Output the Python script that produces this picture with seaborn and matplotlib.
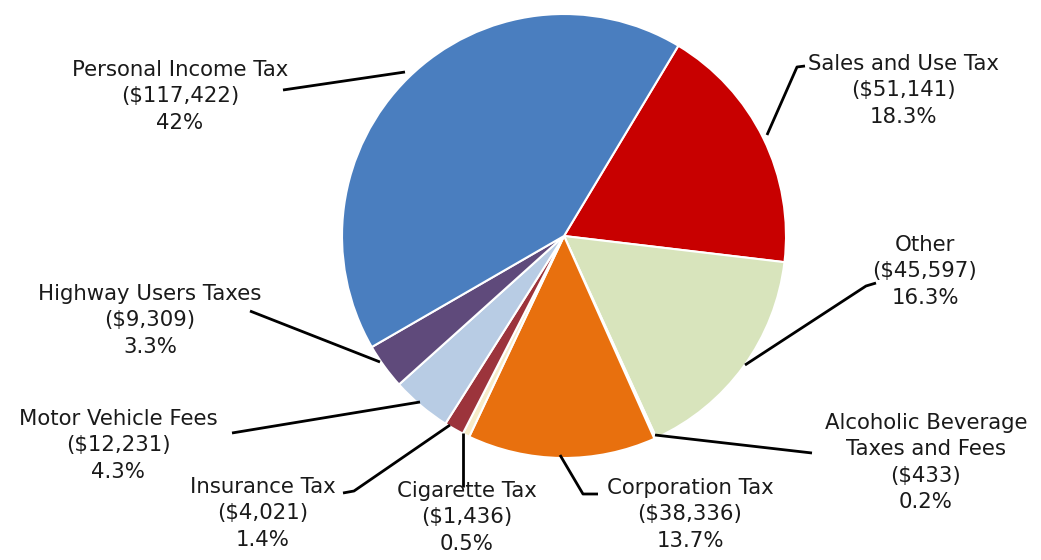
import matplotlib
matplotlib.use("Agg")
import matplotlib.pyplot as plt
import seaborn as sns
import numpy as np

categories = ["Sales and Use Tax", "Other", "Alcoholic Beverage\nTaxes and Fees",
              "Corporation Tax", "Cigarette Tax", "Insurance Tax",
              "Motor Vehicle Fees", "Highway Users Taxes", "Personal Income Tax"]
values = [51141, 45597, 433, 38336, 1436, 4021, 12231, 9309, 117422]
pct_labels = ["18.3%", "16.3%", "0.2%", "13.7%", "0.5%", "1.4%", "4.3%", "3.3%", "42%"]
colors = ["#C80000", "#D8E4BC", "#F2F2F2", "#E8700E", "#F6EBC8", "#9C343C",
          "#B8CCE4", "#5F4A7B", "#4A7EBF"]

sns.set_theme(style="white")
plt.rcParams['font.family'] = ['DejaVu Sans']

W, H = 1041, 560
fig = plt.figure(figsize=(W / 100, H / 100), dpi=100)
ax = fig.add_axes([0, 0, 1, 1])

cx, cy, r = 564, H - 236, 222
ax.pie(values, colors=colors, startangle=59, counterclock=False,
       center=(cx, cy), radius=r, frame=True,
       wedgeprops=dict(edgecolor="white", linewidth=1.5))
ax.set_xlim(0, W)
ax.set_ylim(0, H)
ax.set_axis_off()

# label layout in pixel coordinates (x center, y center of first line), leader path
layout = {
    "Personal Income Tax": ((180, 72), [(283, 90), (405, 72)]),
    "Sales and Use Tax": ((903, 66), [(805, 66), (797, 67), (767, 135)]),
    "Other": ((925, 247), [(876, 283), (866, 286), (745, 365)]),
    "Alcoholic Beverage\nTaxes and Fees": ((926, 425), [(812, 453), (655, 435)]),
    "Corporation Tax": ((690, 490), [(598, 494), (583, 494), (560, 455)]),
    "Cigarette Tax": ((467, 493), [(463, 487), (463, 433)]),
    "Insurance Tax": ((263, 489), [(343, 493), (354, 491), (450, 425)]),
    "Motor Vehicle Fees": ((118, 421), [(232, 433), (420, 402)]),
    "Highway Users Taxes": ((150, 296), [(250, 311), (380, 362)]),
}

for cat, val, pct in zip(categories, values, pct_labels):
    (tx, ty), path = layout[cat]
    txt = f"{cat}\n(${val:,})\n{pct}"
    ax.text(tx, H - ty + 12, txt, ha="center", va="top",
            fontsize=15.3, color="#1a1a1a", linespacing=1.4,
            transform=ax.transData)
    xs = [p[0] for p in path]
    ys = [H - p[1] for p in path]
    ax.plot(xs, ys, color="black", linewidth=2, solid_capstyle="butt")

fig.savefig("out.png", dpi=100, facecolor="white")
